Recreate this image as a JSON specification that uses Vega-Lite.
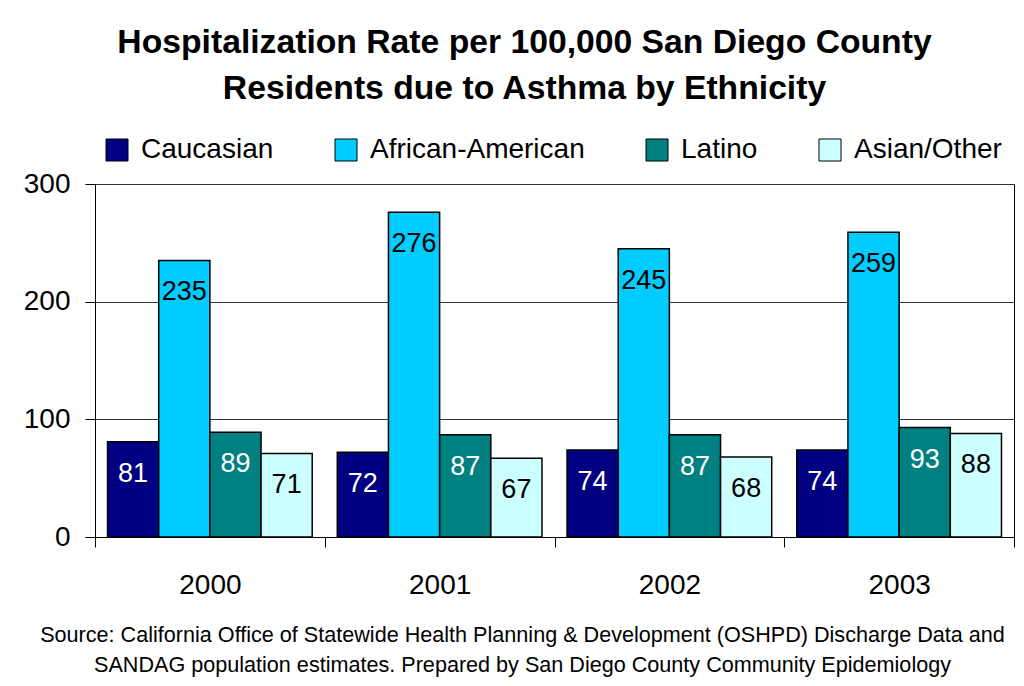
{
  "$schema": "https://vega.github.io/schema/vega-lite/v6.json",
  "width": 919,
  "height": 353,
  "autosize": "none",
  "padding": {"left": 95, "top": 184, "right": 10, "bottom": 149},
  "background": "white",
  "config": {
    "font": "Liberation Sans",
    "view": {"stroke": "black", "strokeWidth": 1}
  },
  "title": {
    "text": ["Hospitalization Rate per 100,000 San Diego County", "Residents due to Asthma by Ethnicity"],
    "font": "Liberation Sans",
    "fontSize": 33.7,
    "fontWeight": "bold",
    "color": "black",
    "anchor": "middle",
    "frame": "group",
    "dx": -30,
    "lineHeight": 46,
    "offset": 30
  },
  "data": {
    "values": [
      {"Year": "2000", "Ethnicity": "Caucasian", "Rate": 81},
      {"Year": "2000", "Ethnicity": "African-American", "Rate": 235},
      {"Year": "2000", "Ethnicity": "Latino", "Rate": 89},
      {"Year": "2000", "Ethnicity": "Asian/Other", "Rate": 71},
      {"Year": "2001", "Ethnicity": "Caucasian", "Rate": 72},
      {"Year": "2001", "Ethnicity": "African-American", "Rate": 276},
      {"Year": "2001", "Ethnicity": "Latino", "Rate": 87},
      {"Year": "2001", "Ethnicity": "Asian/Other", "Rate": 67},
      {"Year": "2002", "Ethnicity": "Caucasian", "Rate": 74},
      {"Year": "2002", "Ethnicity": "African-American", "Rate": 245},
      {"Year": "2002", "Ethnicity": "Latino", "Rate": 87},
      {"Year": "2002", "Ethnicity": "Asian/Other", "Rate": 68},
      {"Year": "2003", "Ethnicity": "Caucasian", "Rate": 74},
      {"Year": "2003", "Ethnicity": "African-American", "Rate": 259},
      {"Year": "2003", "Ethnicity": "Latino", "Rate": 93},
      {"Year": "2003", "Ethnicity": "Asian/Other", "Rate": 88}
    ]
  },
  "encoding": {
    "x": {
      "field": "Year",
      "type": "nominal",
      "scale": {"paddingInner": 0, "paddingOuter": 0},
      "axis": {
        "labelAngle": 0,
        "labelFontSize": 28,
        "labelColor": "black",
        "labelPadding": 24,
        "tickBand": "extent",
        "tickSize": 10,
        "tickColor": "black",
        "domainColor": "black",
        "title": ["Source: California Office of Statewide Health Planning & Development (OSHPD) Discharge Data and", "SANDAG population estimates.  Prepared by San Diego County Community Epidemiology"],
        "titleFont": "Liberation Sans",
        "titleFontSize": 21.6,
        "titleFontWeight": "normal",
        "titleColor": "black",
        "titleLineHeight": 30,
        "titleAlign": "center",
        "titleBaseline": "top",
        "titleX": 427,
        "titleY": 87,
        "titleLimit": 0
      }
    },
    "xOffset": {
      "field": "Ethnicity",
      "sort": ["Caucasian", "African-American", "Latino", "Asian/Other"],
      "scale": {"paddingInner": 0, "paddingOuter": 0.245}
    },
    "y": {
      "field": "Rate",
      "type": "quantitative",
      "scale": {"domain": [0, 300]},
      "axis": {
        "values": [0, 100, 200, 300],
        "title": null,
        "labelFontSize": 28,
        "labelColor": "black",
        "labelPadding": 15,
        "tickSize": 10,
        "tickColor": "black",
        "domainColor": "black",
        "grid": true,
        "gridColor": "#333333",
        "gridOpacity": 1
      }
    }
  },
  "layer": [
    {
      "mark": {"type": "bar", "stroke": "black", "strokeWidth": 1.5},
      "encoding": {
        "color": {
          "field": "Ethnicity",
          "type": "nominal",
          "scale": {
            "domain": ["Caucasian", "African-American", "Latino", "Asian/Other"],
            "range": ["#000080", "#00CCFF", "#008080", "#CCFFFF"]
          },
          "legend": {
            "orient": "none",
            "legendX": 8,
            "legendY": -48,
            "direction": "horizontal",
            "title": null,
            "symbolType": "square",
            "symbolSize": 484,
            "symbolStrokeColor": "black",
            "symbolStrokeWidth": 1,
            "symbolOpacity": 1,
            "labelFontSize": 28,
            "labelColor": "black",
            "labelOffset": 10,
            "labelLimit": 0,
            "columnPadding": 58
          }
        }
      }
    },
    {
      "mark": {"type": "text", "baseline": "middle", "dy": 32, "fontSize": 27},
      "encoding": {
        "text": {"field": "Rate", "type": "quantitative"},
        "color": {
          "condition": {"test": "datum.Ethnicity === 'Caucasian' || datum.Ethnicity === 'Latino'", "value": "white"},
          "value": "black"
        }
      }
    }
  ]
}
